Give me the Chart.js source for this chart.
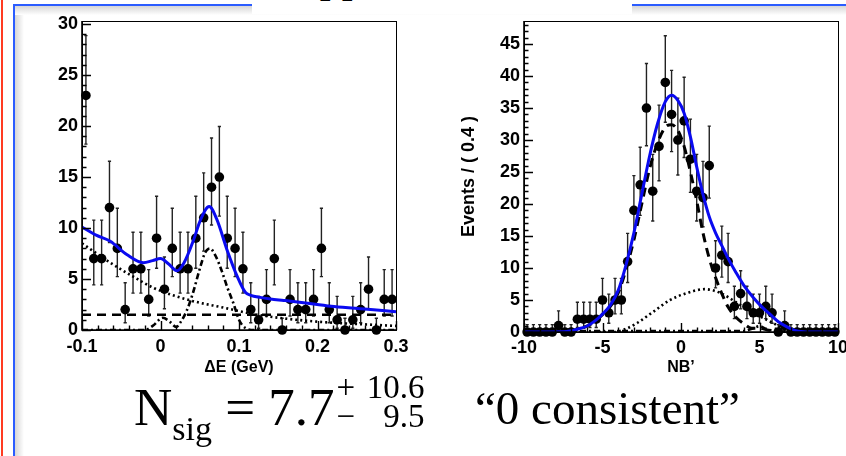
<!DOCTYPE html>
<html>
<head>
<meta charset="utf-8">
<script src="https://cdn.jsdelivr.net/npm/chart.js@4.4.0/dist/chart.umd.min.js"></script>
<style>
html, body { margin: 0; padding: 0; background: #fff; width: 846px; height: 456px; overflow: hidden; position: relative; }
.abs { position: absolute; }
#red { left: 1px; top: 0; width: 2px; height: 456px; background: #ff3b22; }
#blueV { left: 13px; top: 4px; width: 2px; height: 452px; background: #2b5cff; }
#shadeV { left: 15px; top: 6px; width: 9px; height: 450px; background: linear-gradient(to right, #d6d6d6, #fff); }
#blueH { left: 13px; top: 4px; width: 833px; height: 2px; background: #2b5cff; }
#shadeH { left: 15px; top: 6px; width: 831px; height: 9px; background: linear-gradient(to bottom, #d6d6d6, #fff); }
#titleBox { left: 252px; top: 0; width: 380px; height: 14px; background: #fff; overflow: hidden; }
#title { left: 36px; top: -44px; font: 44px/44px "Liberation Serif", serif; white-space: nowrap; color: #000; }
#wrapL { left: 0; top: 0; width: 430px; height: 390px; }
#wrapR { left: 430px; top: 0; width: 430px; height: 390px; }
.big { font-family: "Liberation Serif", serif; color: #000; white-space: nowrap; }
#nsig { left: 134px; top: 381px; font-size: 53px; line-height: 53px; }
#nsig .sub { font-size: 34px; position: relative; top: 15px; }
#nsig .pm { display: inline-block; position: relative; vertical-align: top; font-size: 33px; line-height: 33px; width: 88px; height: 60px; margin-left: 2px; }
#nsig .row { position: absolute; left: 0; width: 88px; display: flex; justify-content: space-between; }
#nsig .r1 { top: -10px; }
#nsig .r2 { top: 19px; }
#cons { left: 475px; top: 385px; font-size: 47px; line-height: 47px; }
</style>
</head>
<body>
<div id="red" class="abs"></div>
<div id="shadeV" class="abs"></div>
<div id="shadeH" class="abs"></div>
<div id="blueV" class="abs"></div>
<div id="blueH" class="abs"></div>
<div id="titleBox" class="abs"><div id="title" class="abs">Upper limit</div></div>
<div id="wrapL" class="abs"><canvas id="deltaE" width="430" height="390"></canvas></div>
<div id="wrapR" class="abs"><canvas id="nbprime" width="430" height="390"></canvas></div>
<div id="nsig" class="big abs">N<span class="sub">sig</span> = 7.7<span class="pm"><span class="row r1"><span>+</span><span>10.6</span></span><span class="row r2"><span>&minus;</span><span>9.5</span></span></span></div>
<div id="cons" class="big abs">“0 consistent”</div>

<script>
// Delta E plot: bin centres and counts
var deX = [-0.095,-0.085,-0.075,-0.065,-0.055,-0.045,-0.035,-0.025,-0.015,-0.005,
           0.005,0.015,0.025,0.035,0.045,0.055,0.065,0.075,0.085,0.095,
           0.105,0.115,0.125,0.135,0.145,0.155,0.165,0.175,0.185,0.195,
           0.205,0.215,0.225,0.235,0.245,0.255,0.265,0.275,0.285,0.295];
var deCounts = [23,7,7,12,8,2,6,6,3,9,
                4,8,6,6,9,11,14,15,9,8,
                6,2,1,3,7,0,3,2,2,3,
                8,2,1,0,1,2,4,0,3,3];

// NB' plot: bin centres and counts
var nbX = [-9.8,-9.4,-9.0,-8.6,-8.2,-7.8,-7.4,-7.0,-6.6,-6.2,
           -5.8,-5.4,-5.0,-4.6,-4.2,-3.8,-3.4,-3.0,-2.6,-2.2,
           -1.8,-1.4,-1.0,-0.6,-0.2,0.2,0.6,1.0,1.4,1.8,
           2.2,2.6,3.0,3.4,3.8,4.2,4.6,5.0,5.4,5.8,
           6.2,6.6,7.0,7.4,7.8,8.2,8.6,9.0,9.4,9.8];
var nbCounts = [0,0,0,0,0,1,0,0,2,2,
                2,2,5,3,5,5,11,19,23,35,
                22,29,39,34,30,33,27,22,21,26,
                10,12,11,4,6,4,3,3,4,3,
                0,1,0,0,0,0,0,0,0,0];

// asymmetric error bars per count, as drawn
var errLow  = {0:0, 1:0.83, 2:1.29, 3:1.63, 4:1.91, 5:2.16, 6:2.38, 7:2.58, 8:2.77, 9:2.94, 10:3.11, 11:3.27, 12:3.42, 14:3.70, 15:3.83,
               19:4.32, 21:4.55, 22:4.66, 23:4.77, 26:5.08, 27:5.18, 29:5.37, 30:5.46, 33:5.73, 34:5.81, 35:5.89, 39:6.22};
var errHigh = {0:1.15, 1:2.30, 2:2.64, 3:2.92, 4:3.16, 5:3.38, 6:3.58, 7:3.77, 8:3.94, 9:4.11, 10:4.26, 11:4.41, 12:4.55, 14:4.83, 15:4.96,
               19:5.44, 21:5.66, 22:5.76, 23:5.87, 26:6.17, 27:6.27, 29:6.45, 30:6.54, 33:6.81, 34:6.89, 35:6.97, 39:7.29};

// Delta E fit curves
var deFitX  = [-0.1,-0.082,-0.064,-0.043,-0.022,-0.01,0.0,0.01,0.021,0.03,0.042,0.051,0.062,0.072,0.085,0.098,0.108,0.115,0.127,0.14,0.157,0.19,0.221,0.26,0.3];
var deFitY  = [10.1,9.3,8.7,7.4,6.6,6.8,7.0,6.5,5.8,6.6,8.8,10.8,12.1,10.8,7.8,5.2,3.7,3.4,3.2,3.05,2.9,2.6,2.3,2.05,1.8];
var deCombX = [-0.1,-0.064,-0.034,-0.008,0.038,0.08,0.123,0.187,0.3];
var deCombY = [8.5,6.6,5.2,4.1,2.9,2.2,1.5,0.9,0.4];
var deFlatX = [-0.1,0.3];
var deFlatY = [1.5,1.5];
var dePeakX = [-0.1,-0.02,-0.01,0.003,0.012,0.02,0.025,0.034,0.042,0.05,0.057,0.063,0.07,0.078,0.085,0.093,0.1,0.108,0.12,0.3];
var dePeakY = [0,0,0.4,1.2,0.8,0.3,0.7,2.0,3.8,6.0,7.6,8.0,7.3,5.8,4.2,2.6,1.0,0.2,0,0];

// NB' fit curves
var nbFitX = [-10,-7.5,-7.0,-6.5,-6.0,-5.5,-5.0,-4.5,-4.0,-3.5,-3.0,-2.5,-2.0,-1.5,-1.0,-0.6,-0.2,0.2,0.6,1.0,1.4,1.8,2.2,2.6,3.0,3.5,4.0,4.6,5.2,5.7,6.2,6.75,7.2,7.8,8.5,10];
var nbFitY = [0,0.05,0.2,0.5,0.9,1.7,2.8,4.2,6.5,10.5,15.5,21.5,27.5,32.5,36,37,36.2,34.2,30.5,25.8,21.5,18,15.5,13.5,11.5,9.3,7.3,5.4,3.8,2.7,1.6,0.8,0.3,0.05,0,0];
var nbSigX = [-10,-7.5,-7.0,-6.5,-6.0,-5.5,-5.0,-4.5,-4.0,-3.5,-3.0,-2.5,-2.0,-1.5,-1.0,-0.6,-0.2,0.2,0.6,1.0,1.4,1.8,2.2,2.6,3.0,3.5,4.0,4.5,5.0,5.5,6.5,10];
var nbSigY = [0,0.05,0.2,0.5,0.9,1.6,2.7,4.0,6.1,9.8,14.4,20,25.5,29.5,32,32.4,31.5,29,25,20.5,15.5,11.5,8.5,6,3.9,2.3,1.3,0.6,0.6,0.3,0,0];
var nbBkgX = [-10,-4.2,-3.5,-2.8,-1.8,-0.7,0.4,1.5,2.5,3.6,4.6,5.7,6.8,7.5,10];
var nbBkgY = [0,0,0.5,1.4,3.1,5.0,6.1,6.7,6.1,4.5,3.0,1.6,0.3,0,0];
var nbOthX = [-10,4.0,4.6,5.0,5.4,6.0,10];
var nbOthY = [0.15,0.15,0.6,0.9,0.5,0.15,0.15];

// axis ticks
var deXTicks = [-0.1,0,0.1,0.2,0.3];
var deXLabels = ['-0.1','0','0.1','0.2','0.3'];
var deYTicks = [0,5,10,15,20,25,30];
var nbXTicks = [-10,-5,0,5,10];
var nbXLabels = ['-10','-5','0','5','10'];
var nbYTicks = [0,5,10,15,20,25,30,35,40,45];

function pts(xs, ys) {
    return xs.map(function (x, i) { return {x: x, y: ys[i]}; });
}

function curve(xs, ys, color, width, dash, order) {
    return {
        type: 'line',
        data: pts(xs, ys),
        borderColor: color,
        borderWidth: width,
        borderDash: dash,
        pointRadius: 0,
        fill: false,
        cubicInterpolationMode: 'monotone',
        order: order
    };
}

function histo(xs, counts) {
    return {
        type: 'scatter',
        data: pts(xs, counts),
        errLo: counts.map(function (c) { return errLow[c]; }),
        errHi: counts.map(function (c) { return errHigh[c]; }),
        pointRadius: 4.8,
        pointBackgroundColor: '#000',
        pointBorderWidth: 0,
        clip: false,
        order: 9
    };
}

// ROOT-like frame, inward ticks and error bars
var rootLook = {
    id: 'rootLook',
    beforeDatasetsDraw: function (chart) {
        var ctx = chart.ctx, x = chart.scales.x, y = chart.scales.y;
        ctx.save();
        ctx.strokeStyle = '#222';
        ctx.lineWidth = 1.4;
        chart.data.datasets.forEach(function (ds) {
            if (!ds.errLo) return;
            ds.data.forEach(function (p, i) {
                var px = x.getPixelForValue(p.x);
                var yt = y.getPixelForValue(p.y + ds.errHi[i]);
                var yb = y.getPixelForValue(p.y - ds.errLo[i]);
                ctx.beginPath();
                ctx.moveTo(px, yt); ctx.lineTo(px, yb);
                ctx.moveTo(px - 1.6, yt); ctx.lineTo(px + 1.6, yt);
                if (ds.errLo[i] > 0) { ctx.moveTo(px - 1.6, yb); ctx.lineTo(px + 1.6, yb); }
                ctx.stroke();
            });
        });
        ctx.restore();
    },
    afterDraw: function (chart) {
        var ctx = chart.ctx, a = chart.chartArea, x = chart.scales.x, y = chart.scales.y;
        var o = chart.options.plugins.rootLook;
        ctx.save();
        ctx.strokeStyle = '#000';
        ctx.lineWidth = 1;
        ctx.strokeRect(Math.round(a.left) + 0.5, Math.round(a.top) + 0.5, Math.round(a.width), Math.round(a.height));
        ctx.lineWidth = 1.6;
        ctx.beginPath();
        ctx.moveTo(a.left, a.top); ctx.lineTo(a.left, a.bottom); ctx.lineTo(a.right, a.bottom);
        ctx.stroke();
        ctx.lineWidth = 1.4;
        ctx.beginPath();
        var v, p, k;
        for (k = 0; y.min + k * o.yMinor <= y.max + 1e-9; k++) {
            v = y.min + k * o.yMinor;
            p = Math.round(y.getPixelForValue(v)) + 0.5;
            var len = (Math.abs(v / o.yMajor - Math.round(v / o.yMajor)) < 1e-6) ? 9 : 4.5;
            ctx.moveTo(a.left, p); ctx.lineTo(a.left + len, p);
        }
        for (k = 0; x.min + k * o.xMinor <= x.max + 1e-9; k++) {
            v = x.min + k * o.xMinor;
            p = Math.round(x.getPixelForValue(v)) + 0.5;
            var lx = (Math.abs(v / o.xMajor - Math.round(v / o.xMajor)) < 1e-6) ? 9 : 4.5;
            ctx.moveTo(p, a.bottom); ctx.lineTo(p, a.bottom - lx);
        }
        ctx.stroke();
        ctx.restore();
    }
};

var sans = '"Liberation Sans", Arial, sans-serif';
var tickFont = {family: sans, size: 18, weight: 'bold'};
var titleFont = {family: sans, size: 16, weight: 'bold'};

function makeChart(id, datasets, cfg) {
    return new Chart(id, {
        data: {datasets: datasets},
        plugins: [rootLook],
        options: {
            responsive: false,
            devicePixelRatio: 1,
            animation: false,
            events: [],
            layout: {padding: cfg.padding},
            plugins: {
                legend: {display: false},
                tooltip: {enabled: false},
                rootLook: cfg.look
            },
            scales: {
                x: {
                    type: 'linear',
                    min: cfg.xMin, max: cfg.xMax,
                    grid: {display: false, drawTicks: false},
                    border: {display: false},
                    afterFit: function (s) { s.height = cfg.xHeight; },
                    afterBuildTicks: function (s) { s.ticks = cfg.xTicks.map(function (v) { return {value: v}; }); },
                    ticks: {
                        autoSkip: false, maxRotation: 0, padding: cfg.xTickPad, color: '#000', font: tickFont,
                        callback: function (v, i) { return cfg.xLabels[i]; }
                    },
                    title: {display: true, text: cfg.xTitle, color: '#000', font: titleFont, padding: cfg.xTitlePad}
                },
                y: {
                    type: 'linear',
                    min: 0, max: cfg.yMax,
                    grid: {display: false, drawTicks: false},
                    border: {display: false},
                    afterFit: function (s) { s.width = cfg.yWidth; },
                    afterBuildTicks: function (s) { s.ticks = cfg.yTicks.map(function (v) { return {value: v}; }); },
                    ticks: {autoSkip: false, padding: 4, color: '#000', font: tickFont},
                    title: {display: !!cfg.yTitle, text: cfg.yTitle, color: '#000', font: {family: sans, size: 18, weight: 'bold'}, padding: 8}
                }
            }
        }
    });
}

makeChart('deltaE', [
    histo(deX, deCounts),
    curve(deCombX, deCombY, '#000', 2.6, [2, 3], 3),
    curve(deFlatX, deFlatY, '#000', 2.6, [9, 6], 3),
    curve(dePeakX, dePeakY, '#000', 2.6, [6, 3, 2, 3], 3),
    curve(deFitX, deFitY, '#0a0af0', 3, [], 1)
], {
    padding: {left: 22, right: 34, top: 21, bottom: 0},
    xMin: -0.1, xMax: 0.3, yMax: 30.3,
    xHeight: 60, yWidth: 60, xTickPad: 6,
    xTicks: deXTicks, xLabels: deXLabels, yTicks: deYTicks,
    xTitle: '\u0394E (GeV)', xTitlePad: 13, yTitle: '',
    look: {xMajor: 0.1, xMinor: 0.02, yMajor: 5, yMinor: 1}
});

makeChart('nbprime', [
    histo(nbX, nbCounts),
    curve(nbBkgX, nbBkgY, '#000', 2.6, [2, 3], 3),
    curve(nbSigX, nbSigY, '#000', 3, [9, 6], 3),
    curve(nbOthX, nbOthY, '#000', 2.6, [6, 3, 2, 3], 3),
    curve(nbFitX, nbFitY, '#0a0af0', 3, [], 1)
], {
    padding: {left: 20, right: 22, top: 21, bottom: 0},
    xMin: -10, xMax: 10, yMax: 48.6,
    xHeight: 58, yWidth: 74, xTickPad: 5,
    xTicks: nbXTicks, xLabels: nbXLabels, yTicks: nbYTicks,
    xTitle: 'NB\u2019', xTitlePad: 13, yTitle: 'Events / ( 0.4 )',
    look: {xMajor: 5, xMinor: 1, yMajor: 5, yMinor: 1}
});
</script>
</body>
</html>
